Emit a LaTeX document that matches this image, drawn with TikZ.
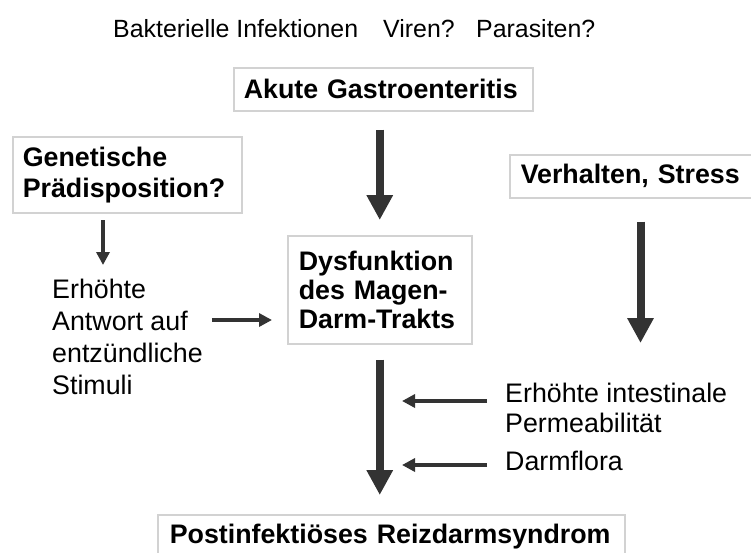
\documentclass[tikz,border=0pt]{standalone}
\usepackage{fontspec}
\setmainfont{Liberation Sans}
\usetikzlibrary{arrows.meta,calc}
\definecolor{arr}{HTML}{333333}
\definecolor{boxline}{HTML}{D2D2D2}
\begin{document}
\begin{tikzpicture}[x=1pt,y=-1pt,
  box/.style={draw=boxline,line width=1.5pt,rectangle,anchor=north west,align=left,
    font=\bfseries\fontsize{26.8}{30}\selectfont,inner ysep=0pt},
  plain/.style={inner sep=0pt,align=left,font=\fontsize{26.8}{32}\selectfont},
  toptext/.style={inner sep=0pt,font=\fontsize{24.9}{30}\selectfont},
  bigarrow/.style={draw=arr,line width=8pt,-{Triangle[width=25pt,length=25pt]}},
  medarrow/.style={draw=arr,line width=4.5pt,-{Triangle[width=13pt,length=13pt]}}]
\useasboundingbox (0,0) rectangle (751,552);

% top line
\node[toptext,anchor=base west] (bakt) at (113,37) {Bakterielle Infektionen};
\node[toptext,anchor=base west] (viren) at (383,37) {Viren?};
\node[toptext,anchor=base west] (paras) at (476,37) {Parasiten?};

% boxes
\node[box,inner xsep=10pt,text width=279pt,minimum height=43pt] (akute) at (233,67) {Akute Gastroenteritis};
\node[box,inner xsep=10pt,text width=209pt,minimum height=76pt,
  font=\bfseries\fontsize{26.8}{31}\selectfont] (gen) at (12,136) {Genetische\\Prädisposition?};
\node[box,inner xsep=11pt,text width=219.5pt,minimum height=43pt] (verh) at (509,154) {Verhalten,~Stress};
\node[box,inner xsep=11pt,text width=162pt,minimum height=108pt,
  font=\bfseries\fontsize{26.8}{29}\selectfont] (dys) at (287,235) {Dysfunktion\\des Magen-\\Darm-Trakts};
\node[box,inner xsep=12pt,text width=443pt,minimum height=44pt] (post) at (157,514) {Postinfektiöses Reizdarmsyndrom};

% plain texts
\node[plain,anchor=north west] (antwort) at (52,278.5) {Erhöhte\\Antwort auf\\entzündliche\\Stimuli};
\node[plain,anchor=north west,font=\fontsize{26.8}{30}\selectfont] (perm) at (505,382.5) {Erhöhte intestinale\\Permeabilität};
\node[plain,anchor=base west] (flora) at (505,470) {Darmflora};

% helper coordinates
\coordinate (h1) at (0,320);
\coordinate (g1) at (103,212);
\coordinate (m1) at (379,401);
\coordinate (m2) at (379,465);

% connectors
\draw[bigarrow,shorten <=18pt,shorten >=15pt] (akute.south -| dys.north) -- (dys.north);
\draw[medarrow,shorten <=8pt,shorten >=13.5pt] (g1) -- (g1 |- antwort.north);
\draw[medarrow,shorten <=9pt,shorten >=15pt] (antwort.east |- h1) -- (dys.west |- h1);
\draw[bigarrow,shorten <=23pt,shorten >=39.5pt] ([xshift=10pt]verh.south) -- ([xshift=10pt]verh.south |- perm.north);
\draw[bigarrow,shorten <=15pt,shorten >=19pt] (dys.south) -- (dys.south |- post.north);
\draw[medarrow,shorten <=18pt,shorten >=23pt] (perm.west |- m1) -- (m1);
\draw[medarrow,shorten <=18pt,shorten >=23pt] (flora.west |- m2) -- (m2);
\end{tikzpicture}
\end{document}
